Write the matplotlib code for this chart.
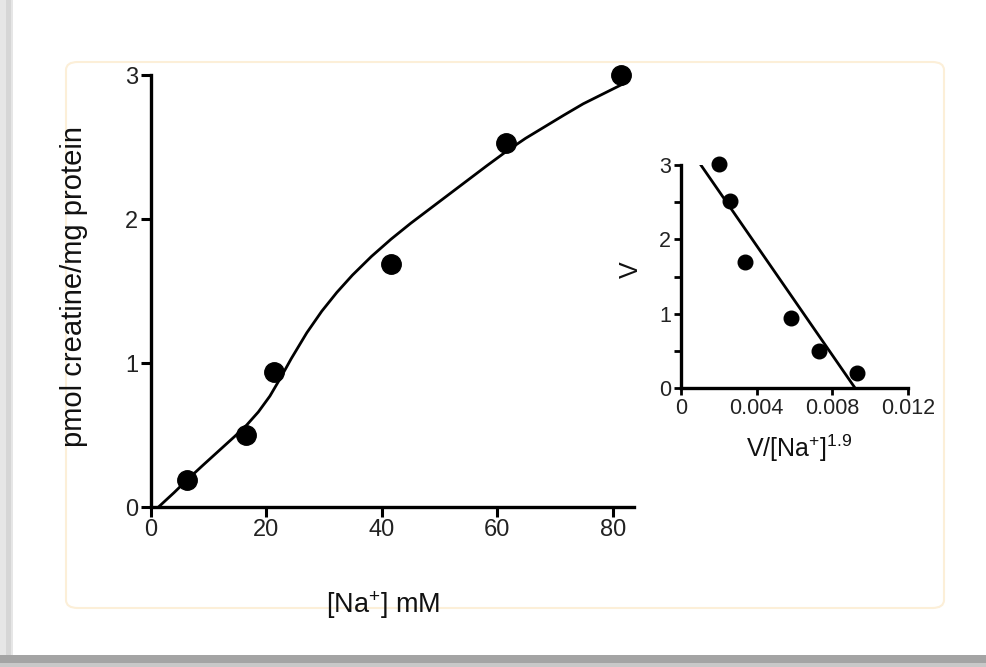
import matplotlib
matplotlib.use("Agg")
import matplotlib.pyplot as plt
from matplotlib.patches import FancyBboxPatch, Rectangle
import numpy as np

plt.rcParams['font.family'] = ['Liberation Sans', 'DejaVu Sans']
plt.rcParams['mathtext.fontset'] = 'custom'
plt.rcParams['mathtext.rm'] = 'Liberation Sans'
plt.rcParams['mathtext.it'] = 'Liberation Sans'

# ---- main plot data ----
na_mM = [6.2, 16.4, 21.4, 41.6, 61.6, 81.5]
v_main = [0.19, 0.50, 0.94, 1.69, 2.53, 3.00]
# fitted curve
curve_x = [1.3, 4.0, 6.3, 9.0, 12.3, 14.5, 16.6, 18.6, 20.6, 22.5, 24.3, 27.0,
           29.6, 32.2, 34.9, 38.2, 41.6, 45.0, 48.3, 51.6, 54.9, 58.2, 61.6,
           64.9, 68.2, 71.5, 74.9, 78.4, 81.9]
curve_y = [0.00, 0.10, 0.19, 0.29, 0.41, 0.49, 0.57, 0.66, 0.77, 0.90, 1.03, 1.21,
           1.36, 1.49, 1.61, 1.74, 1.86, 1.97, 2.07, 2.17, 2.27, 2.37, 2.47,
           2.56, 2.64, 2.72, 2.80, 2.87, 2.94]
main_xticks = [0, 20, 40, 60, 80]
main_yticks = [0, 1, 2, 3]

# ---- inset data ----
inset_x = [0.0020, 0.0026, 0.0034, 0.0058, 0.0073, 0.0093]
inset_v = [3.01, 2.52, 1.70, 0.94, 0.50, 0.20]
line_x = [0.00105, 0.0092]
line_y = [3.0, 0.0]
inset_xticks = [0, 0.004, 0.008, 0.012]
inset_xticklabels = ['0', '0.004', '0.008', '0.012']
inset_yticks = [0, 0.5, 1, 1.5, 2, 2.5, 3]
inset_yticklabels = ['0', '', '1', '', '2', '', '3']

W, H = 987, 667
fig = plt.figure(figsize=(W / 100, H / 100), dpi=100)
fig.patch.set_facecolor('white')

# frame decorations
def add_bg(p):
    p.set_zorder(-10)
    fig.add_artist(p)

add_bg(Rectangle((0, 0), 13 / W, 1, transform=fig.transFigure,
                 facecolor='#e6e6e6', edgecolor='none'))
add_bg(Rectangle((6 / W, 0), 5 / W, 1, transform=fig.transFigure,
                 facecolor='#d6d6d6', edgecolor='none'))
add_bg(Rectangle((0, 0), 1, 12 / H, transform=fig.transFigure,
                 facecolor='#a4a4a4', edgecolor='none'))
add_bg(Rectangle((0, 0), 1, 4 / H, transform=fig.transFigure,
                 facecolor='#c8c8c8', edgecolor='none'))
add_bg(FancyBboxPatch((66 / W, (H - 608) / H), (944 - 66) / W, (608 - 62) / H,
                      boxstyle='round,pad=0,rounding_size=0.012',
                      transform=fig.transFigure, facecolor='white',
                      edgecolor='#fcefd8', linewidth=1.5))

lw_axis = 2.4

# ---- main axes ----
ax = fig.add_axes([151 / W, (H - 507) / H, (634 - 151) / W, (507 - 75) / H])
ax.set_zorder(1)
ax.set_facecolor('none')
ax.plot(curve_x, curve_y, color='black', lw=2.0, zorder=2)
ax.plot(na_mM, v_main, 'o', color='black', ms=14, zorder=3, clip_on=False)
ax.set_xlim(0, 83.7)
ax.set_ylim(0, 3)
ax.set_xticks(main_xticks)
ax.set_yticks(main_yticks)
for s in ['top', 'right']:
    ax.spines[s].set_visible(False)
for s in ['left', 'bottom']:
    ax.spines[s].set_linewidth(lw_axis)
ax.tick_params(direction='out', length=7, width=2.2, labelsize=17, pad=2,
               labelcolor='#222222')
ax.set_xlabel('[Na$^{+}$] mM', fontsize=19.5, color='#111111')
ax.xaxis.set_label_coords(0.48, -0.19)
ax.set_ylabel('pmol creatine/mg protein', fontsize=21, color='#111111')
ax.yaxis.set_label_coords(-0.13, 0.51)

# ---- inset axes ----
ai = fig.add_axes([681 / W, (H - 388) / H, (908 - 681) / W, (388 - 165) / H])
ai.set_zorder(1)
ai.set_facecolor('none')
ai.plot(line_x, line_y, color='black', lw=2.0, zorder=2)
ai.plot(inset_x, inset_v, 'o', color='black', ms=10.5, zorder=3, clip_on=False)
ai.set_xlim(0, 0.012)
ai.set_ylim(0, 3)
ai.set_xticks(inset_xticks)
ai.set_xticklabels(inset_xticklabels)
ai.set_yticks(inset_yticks)
ai.set_yticklabels(inset_yticklabels)
for s in ['top', 'right']:
    ai.spines[s].set_visible(False)
for s in ['left', 'bottom']:
    ai.spines[s].set_linewidth(lw_axis)
ai.tick_params(direction='out', length=5, width=2.0, labelsize=15.5, pad=2,
               labelcolor='#222222')
ai.set_xlabel('V/[Na$^{+}$]$^{1.9}$', fontsize=18, color='#111111')
ai.xaxis.set_label_coords(0.52, -0.2)
ai.set_ylabel('V', fontsize=18, color='#111111')
ai.yaxis.set_label_coords(-0.17, 0.53)

fig.savefig('out.png', dpi=100)
